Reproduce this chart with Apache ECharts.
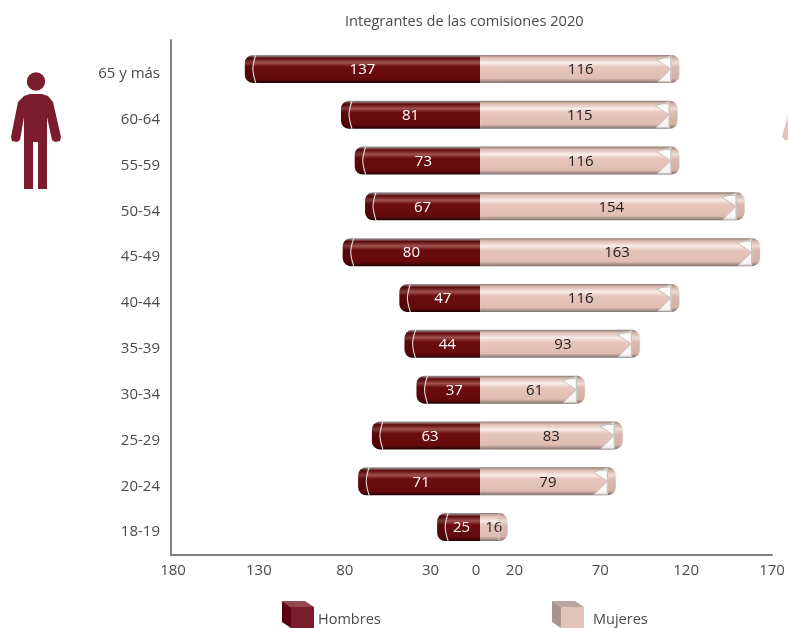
<!DOCTYPE html>
<html><head><meta charset="utf-8">
<style>html,body{margin:0;padding:0;background:#fff}#c{width:788px;height:628px}</style>
<script src="https://cdn.jsdelivr.net/npm/echarts@6/dist/echarts.min.js"></script>
</head><body><div id="c"></div>
<script>
const categories = ['18-19','20-24','25-29','30-34','35-39','40-44','45-49','50-54','55-59','60-64','65 y más'];
const hombres = [25,71,63,37,44,47,80,67,73,81,137];
const mujeres = [16,79,83,61,93,116,163,154,116,115,116];
const axisTicks = [-180,-130,-80,-30,0,20,70,120,170];
const titleText = 'Integrantes de las comisiones 2020';
const hombresLabelShift = [3,2,4,6,5,3,0,0,6,0,0];
const mujeresLabelShift = [0,0,0,2,3,1,-3,-1,1,1,1];
const FONT = '"Open Sans", "Noto Sans", sans-serif';
const TXT = '#4a4a4a';
const BARH = 28;

function grad(stops){
  return {type:'linear',x:0,y:0,x2:0,y2:1,colorStops:stops.map(s=>({offset:s[0],color:s[1]}))};
}
const gradH = grad([[0,'#9a9a9a'],[0.05,'#8a6a6a'],[0.12,'#5e0a0d'],[0.28,'#a05250'],[0.42,'#6b0d10'],[0.86,'#640a0d'],[1,'#1f0203']]);
const gradM = grad([[0,'#8b7b76'],[0.1,'#dcbab0'],[0.28,'#f9ede7'],[0.44,'#e6c5bb'],[0.84,'#dfbdb2'],[1,'#7d716d']]);

function capMale(params, api){
  const p = api.coord([-api.value(0), api.value(1)]);
  const x = p[0], y = p[1], t = y-BARH/2, b = y+BARH/2;
  const lineX = x+9;
  const kids = [
    {type:'rect',shape:{x:x,y:t+1,width:8,height:BARH-2,r:[7,0,0,7]},
     style:{fill:'rgba(40,0,0,0.28)'}},
    {type:'polyline',shape:{points:[[lineX+2,t],[lineX,t+7],[lineX-1,y],[lineX,b-7],[lineX+2,b]],smooth:0.3},
     style:{stroke:'#e4dcdc',lineWidth:1.1,fill:null}}
  ];
  return {type:'group',children:kids};
}
function capFemale(params, api){
  const v = api.value(0);
  const p = api.coord([v, api.value(1)]);
  const x = p[0]+0.5, y = p[1], t = y-BARH/2, b = y+BARH/2;
  const lineX = x-9;
  const kids = [
    {type:'rect',shape:{x:x-8,y:t+1,width:8,height:BARH-2,r:[0,7,7,0]},
     style:{fill:'rgba(120,80,70,0.10)'}},
    {type:'line',shape:{x1:lineX,y1:t,x2:lineX,y2:b},style:{stroke:'#c9c4c2',lineWidth:1.2}}
  ];
  if (v > 30){
    kids.push({type:'polygon',shape:{points:[[lineX-14,t+5],[lineX,t+1],[lineX,y]]},
      style:{fill:'rgba(255,255,255,0.85)',stroke:'#c6c1bf',lineWidth:1}});
    kids.push({type:'polygon',shape:{points:[[lineX-13,b-1],[lineX,y],[lineX,b-1]]},
      style:{fill:'rgba(255,255,255,0.85)',stroke:'#c6c1bf',lineWidth:1}});
    kids.push({type:'polyline',shape:{points:[[lineX-12,t+3],[lineX,t+3]]},style:{stroke:'#c6c1bf',lineWidth:1,fill:null}});
  }
  return {type:'group',children:kids};
}

function cube(x,y,front,left,top){
  return [
    {type:'polygon',silent:true,z:10,shape:{points:[[x,y],[x+23,y],[x+32,y+6],[x+9,y+6]]},style:{fill:top}},
    {type:'polygon',silent:true,z:10,shape:{points:[[x,y],[x+9,y+6],[x+9,y+27],[x,y+21]]},style:{fill:left}},
    {type:'rect',silent:true,z:10,shape:{x:x+9,y:y+6,width:23,height:21},style:{fill:front}}
  ];
}
const manColor = '#7a1c2b', womanColor = '#e5c3b9';
const person = [
  {type:'circle',silent:true,shape:{cx:36,cy:81.5,r:9.2},style:{fill:manColor}},
  {type:'polygon',silent:true,shape:{points:[[18,102],[24,96],[30,94],[42,94],[48,96],[53,102],[61,137],[60,141],[55,142],[52,140],[47,117],[47,189],[38,189],[38,142],[33,142],[33,189],[24,189],[24,117],[20,140],[17,142],[12,141],[11,137]]},style:{fill:manColor}},
  {type:'polygon',silent:true,shape:{points:[[788,115],[788,140],[785,140],[782,137]]},style:{fill:womanColor}}
];

const chart = echarts.init(document.getElementById('c'),null,{renderer:'canvas'});
chart.setOption({
  animation:false,
  backgroundColor:'#fff',
  title:{text:titleText,left:345,top:14,padding:0,
    textStyle:{fontFamily:FONT,fontSize:14.6,fontWeight:'normal',color:TXT}},
  legend:[
    {data:['Hombres'],left:282,top:609,padding:0,itemWidth:32,itemHeight:21,itemGap:0,icon:'rect',
     textStyle:{fontFamily:FONT,fontSize:14.5,color:TXT,padding:[0,0,0,-1]},
     itemStyle:{color:'rgba(0,0,0,0)'},selectedMode:false},
    {data:['Mujeres'],left:552,top:609,padding:0,itemWidth:32,itemHeight:21,itemGap:0,icon:'rect',
     textStyle:{fontFamily:FONT,fontSize:14.5,color:TXT,padding:[0,0,0,4]},
     itemStyle:{color:'rgba(0,0,0,0)'},selectedMode:false}
  ],
  grid:[
    {left:171,top:46,width:601,height:504,containLabel:false},
    {left:171,top:40,width:601,height:515,containLabel:false}
  ],
  xAxis:[
    {type:'value',gridIndex:0,min:-180,max:170,show:false},
    {type:'value',gridIndex:1,min:-180,max:170,
     axisLine:{show:true,lineStyle:{color:'#808080',width:2}},
     axisTick:{show:false},splitLine:{show:false},
     axisLabel:{customValues:axisTicks,margin:8,fontFamily:FONT,fontSize:15,color:TXT,hideOverlap:false,
       formatter:v=>v===0?'{z|0}':(v<0?'{n|'+Math.abs(v)+'}':String(v)),
       rich:{z:{fontFamily:FONT,fontSize:15,color:TXT,padding:[0,8,0,0]},
             n:{fontFamily:FONT,fontSize:15,color:TXT,padding:[0,0,0,4]}}}}
  ],
  yAxis:[
    {type:'category',gridIndex:0,data:categories,
     axisLine:{show:false},axisTick:{show:false},
     axisLabel:{margin:11,formatter:v=>'{a|'+v+'}',
       rich:{a:{fontFamily:FONT,fontSize:15,color:TXT,padding:[10,0,0,0]}}}},
    {type:'value',gridIndex:1,min:0,max:1,position:'left',
     axisLine:{show:true,onZero:false,lineStyle:{color:'#808080',width:2}},
     axisTick:{show:false},axisLabel:{show:false},splitLine:{show:false}}
  ],
  series:[
    {name:'Hombres',type:'bar',xAxisIndex:0,yAxisIndex:0,stack:'t',barWidth:BARH,
     data:hombres.map((v,i)=>({value:-v,label:{offset:[hombresLabelShift[i],1]}})),
     itemStyle:{color:gradH,borderRadius:[8,0,0,8]},
     label:{show:true,position:'inside',formatter:p=>String(Math.abs(p.value)),
       fontFamily:FONT,fontSize:15,color:'#fff'}},
    {name:'Mujeres',type:'bar',xAxisIndex:0,yAxisIndex:0,stack:'t',barWidth:BARH,
     data:mujeres.map((v,i)=>({value:v,label:{offset:[mujeresLabelShift[i],1]}})),
     itemStyle:{color:gradM,borderRadius:[0,8,8,0]},
     label:{show:true,position:'inside',fontFamily:FONT,fontSize:15,color:'#222'}},
    {type:'custom',xAxisIndex:0,yAxisIndex:0,silent:true,z:3,clip:false,
     data:hombres.map((v,i)=>[v,i]),renderItem:capMale,tooltip:{show:false}},
    {type:'custom',xAxisIndex:0,yAxisIndex:0,silent:true,z:3,clip:false,
     data:mujeres.map((v,i)=>[v,i]),renderItem:capFemale,tooltip:{show:false}}
  ],
  graphic:[].concat(
    person,
    cube(282,601,'#7a1c2b','#5a0010','#8f4a50'),
    cube(552,601,'#e3c2ba','#a8938d','#b9a7a0')
  )
});
</script></body></html>
